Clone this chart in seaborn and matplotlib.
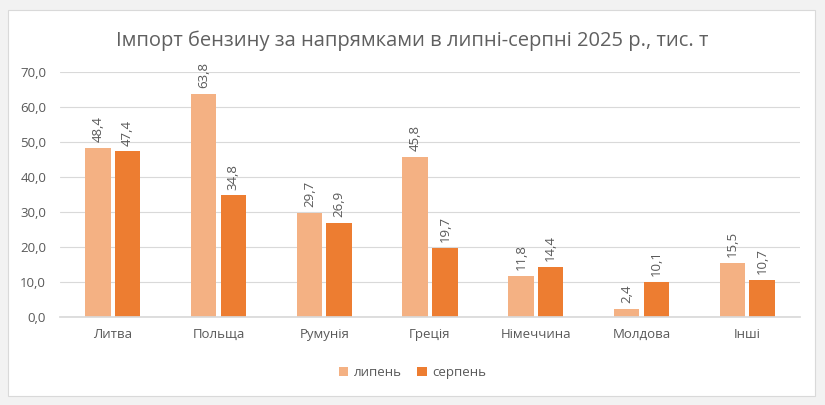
import pandas as pd
import matplotlib
matplotlib.use("Agg")
import matplotlib.pyplot as plt
import seaborn as sns
from matplotlib.patches import Rectangle

# Дані
countries = ['Литва', 'Польща', 'Румунія', 'Греція', 'Німеччина', 'Молдова', 'Інші']
july = [48.4, 63.8, 29.7, 45.8, 11.8, 2.4, 15.5]
august = [47.4, 34.8, 26.9, 19.7, 14.4, 10.1, 10.7]
months = ['липень', 'серпень']
y_ticks = [0, 10, 20, 30, 40, 50, 60, 70]

df = pd.DataFrame({
    'country': countries * 2,
    'month': [months[0]] * len(countries) + [months[1]] * len(countries),
    'value': july + august,
})

sns.set_theme(style='white')
plt.rcParams['font.family'] = ['Open Sans', 'DejaVu Sans']
grey = '#595959'

fig = plt.figure(figsize=(8.25, 4.05), dpi=100)
fig.patch.set_facecolor('#f2f2f2')
box = Rectangle((8 / 825, 9 / 405), 807 / 825, 386 / 405, transform=fig.transFigure,
                facecolor='white', edgecolor='#d9d9d9', linewidth=0.8, zorder=-10)
fig.add_artist(box)

ax = fig.add_axes([60 / 825, 88 / 405, 740 / 825, 245 / 405])
sns.barplot(data=df, x='country', y='value', hue='month',
            palette=['#f4b183', '#ed7d31'], saturation=1, width=0.56, gap=0.14,
            linewidth=0, edgecolor='none', ax=ax, legend=True)

for cont in ax.containers:
    labels = [f'{v:.1f}'.replace('.', ',') for v in cont.datavalues]
    ax.bar_label(cont, labels=labels, rotation=90, padding=4, fontsize=9.5, color=grey)

ax.set_ylim(0, 70)
ax.set_yticks(y_ticks)
ax.set_yticklabels([f'{t:.1f}'.replace('.', ',') for t in y_ticks], fontsize=9.5, color=grey)
ax.tick_params(axis='x', labelsize=9.5, labelcolor=grey, length=0, pad=8)
ax.tick_params(axis='y', length=0, pad=10)
ax.set_xlabel('')
ax.set_ylabel('')
ax.set_facecolor('none')
ax.grid(axis='y', color='#d9d9d9', linewidth=0.8)
ax.set_axisbelow(True)
for s in ['top', 'right', 'left']:
    ax.spines[s].set_visible(False)
ax.spines['bottom'].set_color('#d9d9d9')
ax.set_xlim(-0.5, len(countries) - 0.5)

fig.text(0.5, 0.9, 'Імпорт бензину за напрямками в липні-серпні 2025 р., тис. т',
         ha='center', va='center', fontsize=14.5, color='#606060')

handles, lbls = ax.get_legend_handles_labels()
ax.get_legend().remove()
fig.legend(handles, lbls, loc='center', bbox_to_anchor=(0.5, 0.08), ncol=2,
           frameon=False, fontsize=9.5, labelcolor=grey, handlelength=0.7,
           handleheight=0.7, handletextpad=0.4, columnspacing=1.2)

fig.savefig('out.png', dpi=100, facecolor=fig.get_facecolor())
